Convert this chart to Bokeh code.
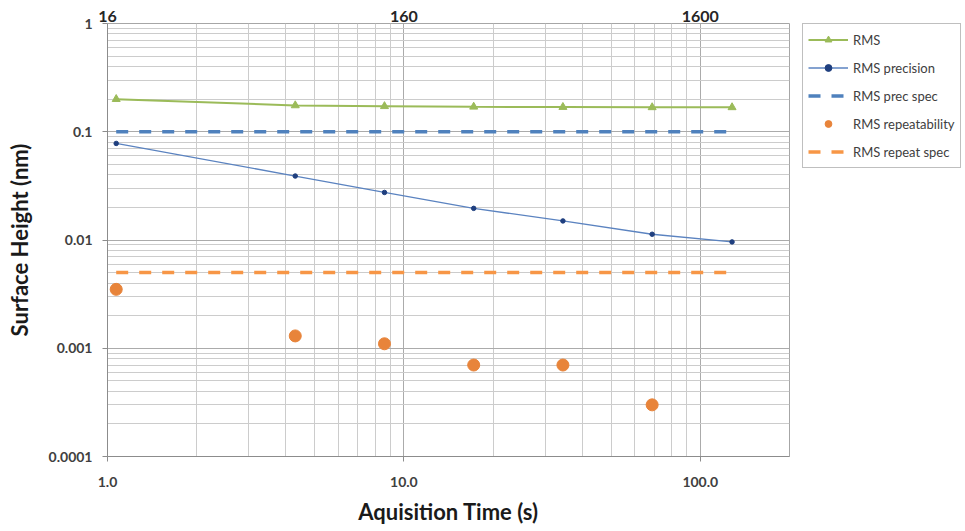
from bokeh.plotting import figure
from bokeh.models import (LogAxis, Range1d, FixedTicker, CustomJSTickFormatter,
                          Legend, LegendItem, LogScale)
from bokeh.embed import file_html
from bokeh.resources import INLINE

# ---------------- data ----------------
acq_time = [1.07, 4.3, 8.6, 17.2, 34.4, 68.8, 128.0]          # seconds
rms = [0.200, 0.175, 0.172, 0.170, 0.169, 0.168, 0.168]
rms_precision = [0.078, 0.039, 0.0275, 0.0196, 0.0150, 0.0113, 0.0096]
rms_prec_spec = [0.1, 0.1, 0.1, 0.1, 0.1, 0.1, 0.1]
rep_time = [1.07, 4.3, 8.6, 17.2, 34.4, 68.8]
rms_repeatability = [0.0035, 0.0013, 0.0011, 0.0007, 0.0007, 0.0003]
rms_repeat_spec = [0.005, 0.005, 0.005, 0.005, 0.005, 0.005, 0.005]

x_ticks = [1, 10, 100]
x_minor = [2, 3, 4, 5, 6, 7, 8, 9, 20, 30, 40, 50, 60, 70, 80, 90, 200]
y_ticks = [0.0001, 0.001, 0.01, 0.1, 1]
y_minor = [0.0002, 0.0003, 0.0004, 0.0005, 0.0006, 0.0007, 0.0008, 0.0009,
           0.002, 0.003, 0.004, 0.005, 0.006, 0.007, 0.008, 0.009,
           0.02, 0.03, 0.04, 0.05, 0.06, 0.07, 0.08, 0.09,
           0.2, 0.3, 0.4, 0.5, 0.6, 0.7, 0.8, 0.9]
frame_ticks = [16, 160, 1600]
frames_per_second = 16

GREEN = "#9BBB59"
BLUE_LINE = "#5B83C0"
BLUE_DOT = "#1F3F7F"
BLUE_DASH = "#4F81BD"
ORANGE = "#E8843A"
ORANGE_DASH = "#F79646"
FONT = "Lato"

p = figure(frame_width=682, frame_height=433, x_axis_type="log", y_axis_type="log",
           x_range=Range1d(1, 200), y_range=Range1d(0.0001, 1),
           output_backend="svg", toolbar_location=None,
           min_border_left=107, min_border_right=0,
           min_border_top=23, min_border_bottom=73)
p.background_fill_color = "white"
p.border_fill_color = "white"
p.outline_line_color = "#A6A6A6"

# top axis (frames)
p.extra_x_ranges = {"frames": Range1d(1 * frames_per_second, 200 * frames_per_second)}
p.extra_x_scales = {"frames": LogScale()}
top = LogAxis(x_range_name="frames", ticker=FixedTicker(ticks=frame_ticks),
              formatter=CustomJSTickFormatter(code="return Math.round(tick).toString()"))
top.axis_line_color = None
top.major_tick_line_color = None
top.minor_tick_line_color = None
top.major_tick_out = 0
top.major_tick_in = 0
top.major_label_standoff = 2
top.major_label_text_font = FONT
top.major_label_text_font_style = "bold"
top.major_label_text_font_size = "16px"
top.major_label_text_color = "#262626"
p.add_layout(top, "above")

xa = p.below[0]
xa.ticker = FixedTicker(ticks=x_ticks, minor_ticks=x_minor)
xa.formatter = CustomJSTickFormatter(code="return tick.toFixed(1)")
ya = p.left[0]
ya.ticker = FixedTicker(ticks=y_ticks, minor_ticks=y_minor)
ya.formatter = CustomJSTickFormatter(code="return (Math.round(tick*1e5)/1e5).toString()")

for ax in (xa, ya):
    ax.axis_line_color = "#8C8C8C"
    ax.major_tick_line_color = "#8C8C8C"
    ax.major_tick_out = 5
    ax.major_tick_in = 0
    ax.minor_tick_line_color = None
    ax.major_label_text_font = FONT
    ax.major_label_text_font_style = "bold"
    ax.major_label_text_font_size = "14px"
    ax.major_label_text_color = "#404040"
    ax.axis_label_text_font = FONT
    ax.axis_label_text_font_style = "bold"
    ax.axis_label_text_font_size = "22px"
    ax.axis_label_text_color = "#1A1A1A"

xa.axis_label = "Aquisition Time (s)"
xa.major_label_standoff = 15
xa.axis_label_standoff = 8
ya.axis_label = "Surface Height (nm)"
ya.major_label_standoff = 10
ya.axis_label_standoff = 13

for g in (p.xgrid[0], p.ygrid[0]):
    g.grid_line_color = "#ABABAB"
    g.minor_grid_line_color = "#CCCCCC"
    g.grid_line_width = 1
    g.minor_grid_line_width = 1

r_pspec = p.line(acq_time, rms_prec_spec, color=BLUE_DASH, line_width=3.5, line_dash="12 11")
r_rspec = p.line(acq_time, rms_repeat_spec, color=ORANGE_DASH, line_width=3.5, line_dash="12 11")
r_rms_l = p.line(acq_time, rms, color=GREEN, line_width=2)
r_rms_m = p.scatter(acq_time, rms, marker="triangle", size=8, color=GREEN)
r_prec_l = p.line(acq_time, rms_precision, color=BLUE_LINE, line_width=1.3)
r_prec_m = p.scatter(acq_time, rms_precision, marker="circle", size=4.5, color=BLUE_DOT)
r_rep = p.scatter(rep_time, rms_repeatability, marker="circle", size=12, color=ORANGE)

legend = Legend(items=[
    LegendItem(label="RMS", renderers=[r_rms_l, r_rms_m]),
    LegendItem(label="RMS precision", renderers=[r_prec_l, r_prec_m]),
    LegendItem(label="RMS prec spec", renderers=[r_pspec]),
    LegendItem(label="RMS repeatability", renderers=[r_rep]),
    LegendItem(label="RMS repeat spec", renderers=[r_rspec]),
], location=(13, 288))
legend.margin = 0
legend.padding = 5
legend.spacing = 7
legend.glyph_width = 40
legend.glyph_height = 17
legend.label_height = 21
legend.label_standoff = 5
legend.label_text_font = FONT
legend.label_text_font_size = "13px"
legend.label_text_color = "#404040"
legend.border_line_color = "#7F7F7F"
legend.border_line_width = 1
legend.background_fill_color = "white"
p.add_layout(legend, "right")

open("out.html", "w").write(file_html(p, INLINE))
